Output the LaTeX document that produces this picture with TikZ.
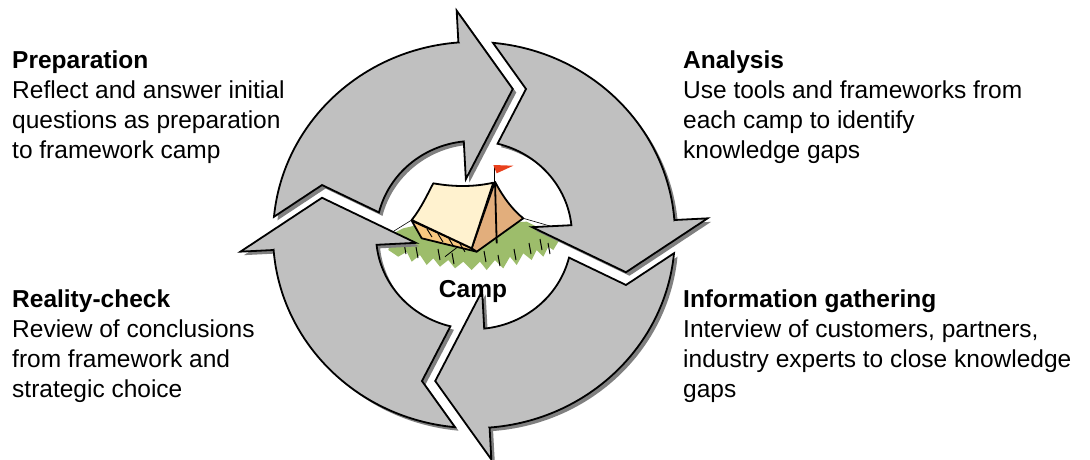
\documentclass[tikz,border=0pt]{standalone}
\usepackage{fontspec}
\setmainfont{Liberation Sans}

\definecolor{arrowgray}{HTML}{C0C0C0}
\definecolor{shadowgray}{HTML}{808080}
\definecolor{grassgreen}{HTML}{9DBD6B}
\definecolor{roofcream}{HTML}{FFF2CF}
\definecolor{walltan}{HTML}{E2AE7C}
\definecolor{frontorange}{HTML}{F8C880}
\definecolor{flagred}{HTML}{E8401C}

\tikzset{
  stage/.style={
    anchor=base west,
    inner sep=0pt,
    align=left,
    font=\fontsize{24.5}{30}\selectfont
  },
  ringarrow/.style={
    fill=arrowgray,
    draw=black,
    line width=1.8pt
  },
  ringshadow/.style={
    fill=shadowgray
  },
  tentline/.style={
    draw=black,
    line width=1.8pt,
    line join=round
  },
}

% one arrow of the ring, head on the left side
\newcommand{\ringpath}{(-196.5,-15.3) -- (-229,-17) -- (-149,38) -- (-57,-8)
  -- (-95.5,-10) arc[start angle=186, end angle=256.1, radius=96]
  -- (-51,-149) -- (-18.6,-196.1) arc[start angle=264.6, end angle=184.45, radius=197]
  -- cycle}

\begin{document}
\begin{tikzpicture}[x=1pt,y=1pt]
  \fill[white] (-474,-224) rectangle (616,235);
  \useasboundingbox (-474,-224) rectangle (616,235);

  % tent
  \fill[grassgreen] (-85.7,-15) -- (-80.7,1.7) -- (-70.7,6.7) -- (-60.7,9)
    -- (52.7,13.3) -- (66,6.7) -- (86,-4) -- (79.3,-15) -- (74.3,-11.7)
    -- (69.3,-21.7) -- (62.7,-15) -- (57.7,-25) -- (49.3,-18.3) -- (42.7,-30)
    -- (36,-21.7) -- (29.3,-33.3) -- (21,-25) -- (12.7,-35) -- (6,-26.7)
    -- (-2.3,-35) -- (-10.7,-26.7) -- (-19,-33.3) -- (-25.7,-25) -- (-34,-31.7)
    -- (-40.7,-23.3) -- (-47.3,-30) -- (-54,-20) -- (-62.3,-26.7)
    -- (-67.3,-16.7) -- (-75.7,-21.7) -- cycle;
  \foreach \gx/\gy in {-70/-8, -58/-12, -36/-14, -22/-18, 10/-16, 24/-20, 40/-14, 55/-8, 66/-4, 74/-8}
    \draw[line width=1pt] (\gx,\gy) -- ++(2,-11);
  \draw[line width=0.6pt] (-62.3,15) -- (-80,4);
  \draw[line width=0.6pt] (49.3,16.7) -- (76,9) -- ++(0,-4);
  \draw[line width=0.8pt] (-29,-21.7) -- (-7.3,-5);
  \path[tentline, fill=frontorange] (-62.3,14.3) -- (-2.3,-13.3) -- (2.7,-16.7)
    -- (-52.3,-3.3) -- cycle;
  \foreach \sx in {-47,-36,-25,-14}
    \draw[line width=0.9pt] (\sx,{6-(\sx+47)*0.45}) -- ++(5,-8);
  \path[tentline, fill=walltan] (21,53.3) .. controls (30,36) and (40,24) .. (49.3,16.7)
    -- (2.7,-16.7) -- (-2.3,-13.3) -- cycle;
  \path[tentline, fill=roofcream] (-62.3,15) .. controls (-52,28) and (-46,42) .. (-40.7,51.7)
    .. controls (-20,48) and (0,48) .. (19.3,52.3) -- (-2.3,-13.3) -- cycle;
  \draw[line width=1.8pt] (21,53) -- (22.7,-8.3);
  \draw[line width=1pt] (21,53.3) -- (21,70);
  \fill[flagred] (19.3,70) -- (39.3,69.3) -- (22.7,61.7) -- cycle;

  % ring of arrows
  \foreach \r in {0,-90,-180,-270}
    \path[ringshadow, shift={(3.5,-3.5)}, xscale=1.02, yscale=0.98, rotate=\r] \ringpath;
  \foreach \r in {0,-90,-180,-270}
    \path[ringarrow, xscale=1.02, yscale=0.98, rotate=\r] \ringpath;

  \node[font=\bfseries\fontsize{24.5}{30}\selectfont, anchor=base, inner sep=0pt] (camp) at (-1,-62.7) {Camp};

  % base west of a block is the baseline of its last line
  \node[stage] (prep) at (-462,77) {\textbf{Preparation}\\Reflect and answer initial\\questions as preparation\\to framework camp};
  \node[stage] (analysis) at (209,77) {\textbf{Analysis}\\Use tools and frameworks from\\each camp to identify\\knowledge gaps};
  \node[stage] (reality) at (-462,-162) {\textbf{Reality-check}\\Review of conclusions\\from framework and\\strategic choice};
  \node[stage] (info) at (209,-162) {\textbf{Information gathering}\\Interview of customers, partners,\\industry experts to close knowledge\\gaps};
\end{tikzpicture}
\end{document}
